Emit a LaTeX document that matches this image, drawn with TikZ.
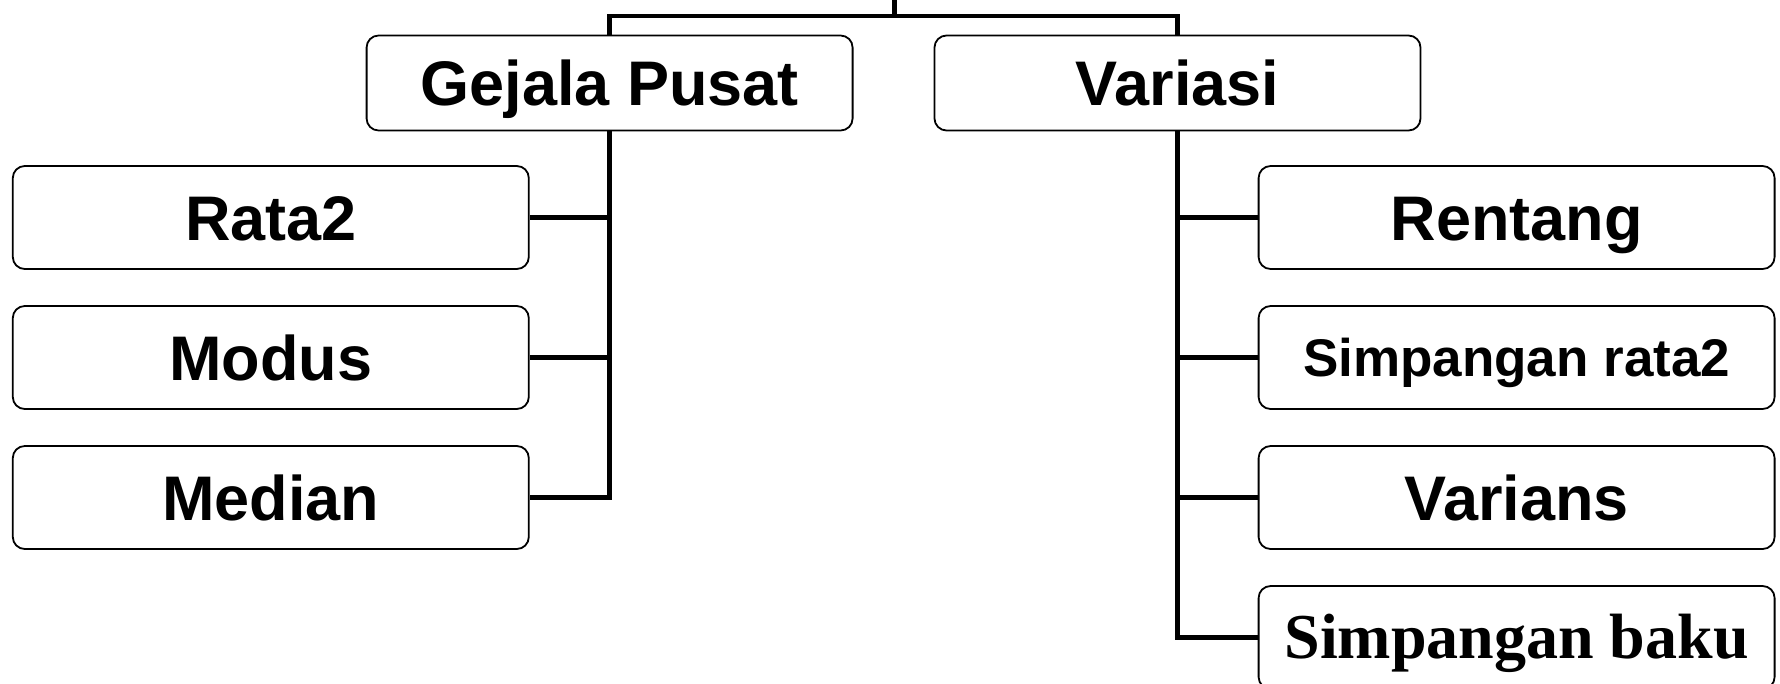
\documentclass[tikz,border=0pt]{standalone}
\usepackage{fontspec}
\setmainfont{Liberation Sans}
\newfontfamily\timesfont{Liberation Serif}
\begin{document}
\begin{tikzpicture}[x=1pt,y=-1pt,
  box/.style={draw,rounded corners=12pt,line width=1.8pt,minimum width=516pt,minimum height=103pt,inner sep=0pt,
    font=\bfseries\fontsize{63}{70}\selectfont,text height=45pt,text depth=0pt},
  topbox/.style={box,minimum width=486pt,minimum height=95pt},
  smallbox/.style={box,font=\bfseries\fontsize{53}{60}\selectfont,text height=38pt},
  serifbox/.style={box,font=\timesfont\bfseries\fontsize{64}{70}\selectfont,text height=42pt},
  conn/.style={line width=4.8pt,line join=miter}]
\useasboundingbox (0,0) rectangle (1780,683);
\fill[white] (0,0) rectangle (1780,683);
\node[topbox] (gp) at (609.6,83) {Gejala Pusat};
\node[topbox] (va) at (1177.5,83) {Variasi};
\node[box] (rata) at (270.8,217.5) {Rata2};
\node[box] (modus) at (270.8,357.5) {Modus};
\node[box] (median) at (270.8,497.5) {Median};
\node[box] (rentang) at (1516.6,217.5) {Rentang};
\node[smallbox] (simr) at (1516.6,357.5) {Simpangan rata2};
\node[box] (varians) at (1516.6,497.5) {Varians};
\node[serifbox] (baku) at (1516.6,637.5) {Simpangan baku};
\coordinate (top) at (894.5,0);
\coordinate (j) at (894.5,16);
\draw[conn] (top) -- (j);
\draw[conn] (gp.north) |- (j) -| (va.north);
\draw[conn] (gp.south) |- (median.east);
\draw[conn] (rata.east) -- (rata.east -| gp.south);
\draw[conn] (modus.east) -- (modus.east -| gp.south);
\draw[conn] (va.south) |- (baku.west);
\draw[conn] (rentang.west) -- (rentang.west -| va.south);
\draw[conn] (simr.west) -- (simr.west -| va.south);
\draw[conn] (varians.west) -- (varians.west -| va.south);
\end{tikzpicture}
\end{document}
